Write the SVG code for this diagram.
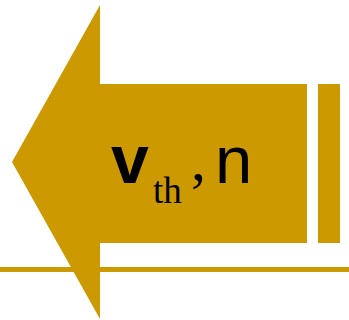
<svg xmlns="http://www.w3.org/2000/svg" width="349" height="320" viewBox="0 0 349 320">
<style>
.g{fill:#CC9900}
.s{font-family:"Liberation Sans",Arial,sans-serif;fill:#000}
.r{font-family:"Liberation Serif","Times New Roman",serif;fill:#000}
</style>
<rect width="349" height="320" fill="#fff"/>
<g id="line"><rect class="g" x="0" y="267" width="349" height="5"/></g>
<g id="arrow">
<polygon class="g" points="100,5 100,84 307,84 307,243 100,243 100,319 12,162"/>
<rect class="g" x="318" y="84" width="22" height="159"/>
</g>
<g id="label">
<text class="s" x="111" y="183" font-size="68" font-weight="bold">v</text>
<text class="r" x="153" y="203" font-size="37">th</text>
<text class="r" x="191" y="180" font-size="60">,</text>
<text class="s" x="215" y="183" font-size="67">n</text>
</g>
</svg>
